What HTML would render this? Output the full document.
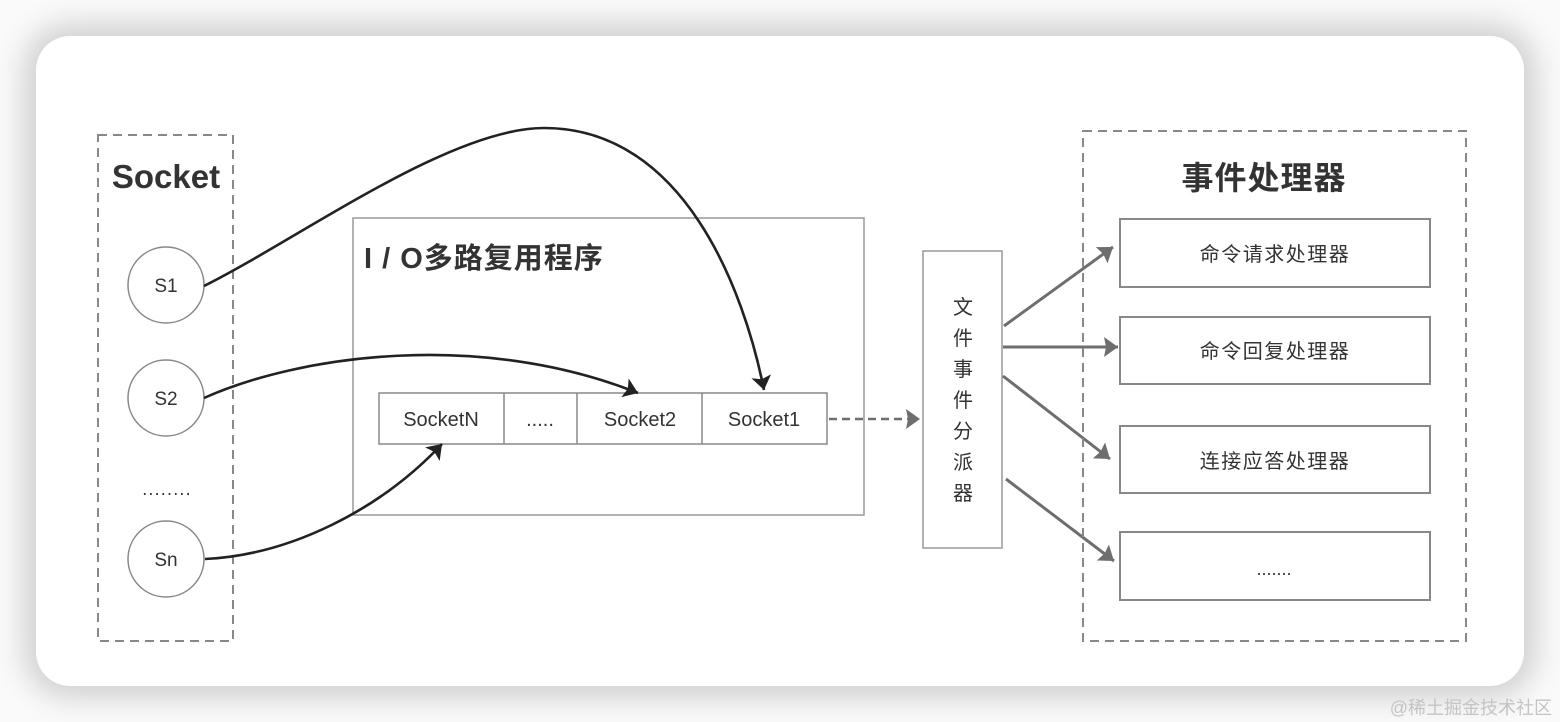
<!DOCTYPE html>
<html><head><meta charset="utf-8"><style>
html,body{margin:0;padding:0;width:1560px;height:722px;overflow:hidden;background:#fafafa;}
.card{position:absolute;left:36px;top:36px;width:1488px;height:650px;background:#fff;border-radius:34px;box-shadow:0 0 30px 12px rgba(0,0,0,0.17);}
svg{position:absolute;left:0;top:0;}
text{font-family:"Liberation Sans","Noto Sans CJK SC",sans-serif;fill:#333;}
</style></head><body>
<div class="card"></div>
<svg width="1560" height="722" viewBox="0 0 1560 722" xmlns="http://www.w3.org/2000/svg">
<defs>
<marker id="ab" markerWidth="16" markerHeight="22" refX="14" refY="10" orient="auto" markerUnits="userSpaceOnUse">
<path d="M0,0 L14,10 L0,20 L3,10 Z" fill="#222"/>
</marker>
<marker id="ag" markerWidth="16" markerHeight="22" refX="14" refY="10" orient="auto" markerUnits="userSpaceOnUse">
<path d="M0,0 L14,10 L0,20 L2,10 Z" fill="#6e6e6e"/>
</marker>
</defs>

<!-- Socket dashed group -->
<rect x="98" y="135" width="135" height="506" fill="none" stroke="#888" stroke-width="2" stroke-dasharray="9,6"/>
<text x="166" y="188" font-size="33" font-weight="bold" text-anchor="middle">Socket</text>

<circle cx="166" cy="285" r="38" fill="#fff" stroke="#888" stroke-width="1.5"/>
<text x="166" y="292" font-size="19" text-anchor="middle">S1</text>
<circle cx="166" cy="398" r="38" fill="#fff" stroke="#888" stroke-width="1.5"/>
<text x="166" y="405" font-size="19" text-anchor="middle">S2</text>
<text x="167" y="495" font-size="18" text-anchor="middle" letter-spacing="1.2">........</text>
<circle cx="166" cy="559" r="38" fill="#fff" stroke="#888" stroke-width="1.5"/>
<text x="166" y="566" font-size="19" text-anchor="middle">Sn</text>

<!-- IO multiplexer box -->
<rect x="353" y="218" width="511" height="297" fill="none" stroke="#999" stroke-width="1.5"/>
<text x="364" y="268" font-size="29" font-weight="bold" letter-spacing="1">I / O多路复用程序</text>

<rect x="379" y="393" width="448" height="51" fill="#fff" stroke="#888" stroke-width="1.5"/>
<line x1="504" y1="393" x2="504" y2="444" stroke="#888" stroke-width="1.5"/>
<line x1="577" y1="393" x2="577" y2="444" stroke="#888" stroke-width="1.5"/>
<line x1="702" y1="393" x2="702" y2="444" stroke="#888" stroke-width="1.5"/>
<text x="441" y="426" font-size="20" text-anchor="middle">SocketN</text>
<text x="540" y="426" font-size="20" text-anchor="middle">.....</text>
<text x="640" y="426" font-size="20" text-anchor="middle">Socket2</text>
<text x="764" y="426" font-size="20" text-anchor="middle">Socket1</text>

<!-- curves -->
<path d="M204,286 C300,238 450,128 544,128 C684,128 744,290 764,390" fill="none" stroke="#222" stroke-width="2.6" marker-end="url(#ab)"/>
<path d="M204,398 C300,355 480,330 638,393" fill="none" stroke="#222" stroke-width="2.6" marker-end="url(#ab)"/>
<path d="M205,559 C290,555 380,510 442,444" fill="none" stroke="#222" stroke-width="2.6" marker-end="url(#ab)"/>

<!-- dashed arrow to dispatcher -->
<line x1="829" y1="419" x2="920" y2="419" stroke="#6e6e6e" stroke-width="2.6" stroke-dasharray="8,5" marker-end="url(#ag)"/>

<!-- dispatcher -->
<rect x="923" y="251" width="79" height="297" fill="#fff" stroke="#999" stroke-width="1.5"/>
<g font-size="20" text-anchor="middle">
<text x="963" y="314">文</text>
<text x="963" y="345">件</text>
<text x="963" y="376">事</text>
<text x="963" y="407">件</text>
<text x="963" y="438">分</text>
<text x="963" y="469">派</text>
<text x="963" y="500">器</text>
</g>

<!-- dispatcher arrows -->
<line x1="1004" y1="326" x2="1113" y2="247" stroke="#6e6e6e" stroke-width="3" marker-end="url(#ag)"/>
<line x1="1003" y1="347" x2="1118" y2="347" stroke="#6e6e6e" stroke-width="3" marker-end="url(#ag)"/>
<line x1="1003" y1="376" x2="1110" y2="459" stroke="#6e6e6e" stroke-width="3" marker-end="url(#ag)"/>
<line x1="1006" y1="479" x2="1114" y2="561" stroke="#6e6e6e" stroke-width="3" marker-end="url(#ag)"/>

<!-- handlers -->
<rect x="1083" y="131" width="383" height="510" fill="none" stroke="#888" stroke-width="2" stroke-dasharray="9,6"/>
<text x="1264" y="189" font-size="32" font-weight="bold" text-anchor="middle" letter-spacing="1">事件处理器</text>

<rect x="1120" y="219" width="310" height="68" fill="#fff" stroke="#888" stroke-width="2"/>
<text x="1275" y="261" font-size="20" text-anchor="middle" letter-spacing="1.5">命令请求处理器</text>
<rect x="1120" y="317" width="310" height="67" fill="#fff" stroke="#888" stroke-width="2"/>
<text x="1275" y="358" font-size="20" text-anchor="middle" letter-spacing="1.5">命令回复处理器</text>
<rect x="1120" y="426" width="310" height="67" fill="#fff" stroke="#888" stroke-width="2"/>
<text x="1275" y="468" font-size="20" text-anchor="middle" letter-spacing="1.5">连接应答处理器</text>
<rect x="1120" y="532" width="310" height="68" fill="#fff" stroke="#888" stroke-width="2"/>
<text x="1274" y="575" font-size="18" text-anchor="middle">.......</text>

<!-- watermark -->
<text x="1552" y="714" font-size="18" text-anchor="end" style="fill:#c4c4c4">@稀土掘金技术社区</text>
</svg>
</body></html>
